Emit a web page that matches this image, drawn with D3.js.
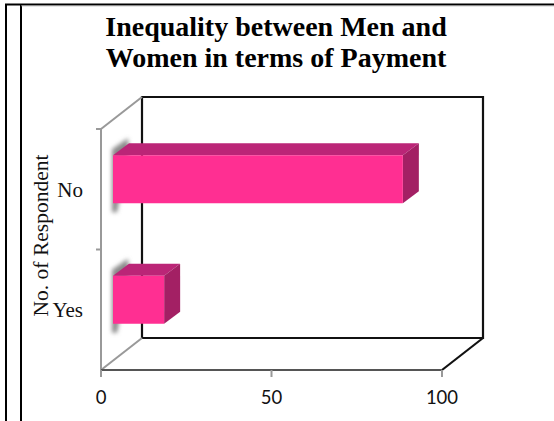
<!DOCTYPE html>
<html><head><meta charset="utf-8">
<script src="https://cdn.jsdelivr.net/npm/d3@7/dist/d3.min.js"></script>
<style>html,body{margin:0;padding:0;background:#fff;overflow:hidden}svg{display:block}</style>
</head><body><div id="c"></div>
<script>
const categories = ["Yes", "No"];
const values = [15, 85];
const xTicks = [0, 50, 100];
const titleLines = ["Inequality between Men and", "Women in terms of Payment"];
const yTitle = "No. of Respondent";

const W = 554, H = 421;
const svg = d3.select("#c").append("svg").attr("width", W).attr("height", H);
const defs = svg.append("defs");
defs.append("filter").attr("id", "soft").attr("x", "-50%").attr("y", "-20%").attr("width", "200%").attr("height", "140%")
  .append("feGaussianBlur").attr("stdDeviation", 2.3);

const pLeft = 101, pRight = 442, pBottom = 370, pTop = 129, dx = 41, dy = -32;
const x = d3.scaleLinear().domain([0, 100]).range([pLeft, pRight]);
const y = d3.scaleBand().domain(categories).range([pBottom, pTop]);

// page frame
const frame = [[[5, 4.5], [W, 4.5]], [[6, 4], [6, H]], [[21, 4], [21, H]]];
frame.forEach(([a, b]) => svg.append("line").attr("x1", a[0]).attr("y1", a[1]).attr("x2", b[0]).attr("y2", b[1])
  .attr("stroke", "#000").attr("stroke-width", 2));
svg.append("line").attr("x1", 21).attr("x2", W).attr("y1", 5.8).attr("y2", 5.8).attr("stroke", "#999").attr("stroke-width", .8);

// title
svg.append("g").selectAll("text").data(titleLines).join("text")
  .attr("x", 276).attr("y", (d, i) => 35.5 + i * 31.7)
  .attr("text-anchor", "middle")
  .style("font", "bold 28px 'Liberation Serif'").attr("fill", "#000").text(d => d);

// back walls
const P = (a, b) => `M${a[0]},${a[1]}L${b[0]},${b[1]}`;
const grid = svg.append("g").attr("fill", "none");
grid.append("path").attr("d", `M${pLeft + dx},${pTop + dy}H${pRight + dx}V${pBottom + dy}H${pLeft + dx}Z`)
  .attr("stroke", "#111").attr("stroke-width", 2.2);
grid.append("path").attr("d", P([pLeft, pTop], [pLeft + dx, pTop + dy])).attr("stroke", "#999").attr("stroke-width", 2);
grid.append("path").attr("d", P([pLeft, pBottom], [pLeft + dx, pBottom + dy])).attr("stroke", "#999").attr("stroke-width", 2);
grid.append("path").attr("d", P([pRight, pBottom], [pRight + dx, pBottom + dy])).attr("stroke", "#111").attr("stroke-width", 2.2);

// bars
const off = [12, -10], depth = [16, -12], barH = 48;
const bars = svg.append("g").selectAll("g").data(categories.map((c, i) => ({c, v: values[i]}))).join("g");
bars.each(function (d) {
  const g = d3.select(this);
  const x0 = x(0) + off[0], x1 = x(d.v) + off[0];
  const yc = y(d.c) + y.bandwidth() / 2 + off[1];
  const y0 = yc - barH / 2, y1 = yc + barH / 2;
  const poly = pts => pts.map(p => p.join(",")).join(" ");
  g.append("polygon").attr("filter", "url(#soft)").attr("fill", "#8a8a8a")
    .attr("points", poly([[x0 - 1, y0 - 6], [x0 + depth[0] - 1, y0 + depth[1] - 5], [x0 + depth[0], y0 + depth[1] + 8], [x0 + 4, y1 + 9], [x0 - 1, y1 + 9]]));
  g.append("polygon").attr("fill", "#bb2577")
    .attr("points", poly([[x0, y0], [x0 + depth[0], y0 + depth[1]], [x1 + depth[0], y0 + depth[1]], [x1, y0]]));
  g.append("polygon").attr("fill", "#a32064")
    .attr("points", poly([[x1, y0], [x1 + depth[0], y0 + depth[1]], [x1 + depth[0], y1 + depth[1]], [x1, y1]]));
  g.append("rect").attr("x", x0).attr("y", y0).attr("width", x1 - x0).attr("height", y1 - y0).attr("fill", "#ff2f92");
});

// y axis
const yAxisG = svg.append("g").attr("transform", `translate(${pLeft},0)`);
yAxisG.append("line").attr("y1", pTop).attr("y2", pBottom).attr("stroke", "#999").attr("stroke-width", 2);
yAxisG.selectAll("line.t").data([...categories.map(c => y(c)), pTop]).join("line").attr("class", "t")
  .attr("x1", -5).attr("x2", 0).attr("y1", d => d).attr("y2", d => d).attr("stroke", "#999").attr("stroke-width", 2);

// y title
svg.append("text").attr("transform", "translate(48,235.5) rotate(-90)")
  .attr("text-anchor", "middle").style("font", "21.5px 'Liberation Serif'").attr("fill", "#111").text(yTitle);

yAxisG.selectAll("text").data(categories).join("text")
  .attr("x", -18).attr("y", d => y(d) + y.bandwidth() / 2 + 7.5)
  .attr("text-anchor", "end").style("font", "21px 'Liberation Serif'").attr("fill", "#111").text(d => d);

// x axis
const xAxisG = svg.append("g").attr("transform", `translate(0,${pBottom})`);
xAxisG.append("line").attr("x1", pLeft).attr("x2", pRight).attr("stroke", "#555").attr("stroke-width", 2);
xAxisG.selectAll("line.t").data(xTicks).join("line").attr("class", "t")
  .attr("x1", d => x(d)).attr("x2", d => x(d)).attr("y1", 0).attr("y2", 7).attr("stroke", "#999").attr("stroke-width", 2);
xAxisG.selectAll("text").data(xTicks).join("text")
  .attr("x", d => x(d)).attr("y", 34).attr("text-anchor", "middle")
  .style("font", "18.5px Lato").attr("fill", "#111").text(d => d);
</script></body></html>
